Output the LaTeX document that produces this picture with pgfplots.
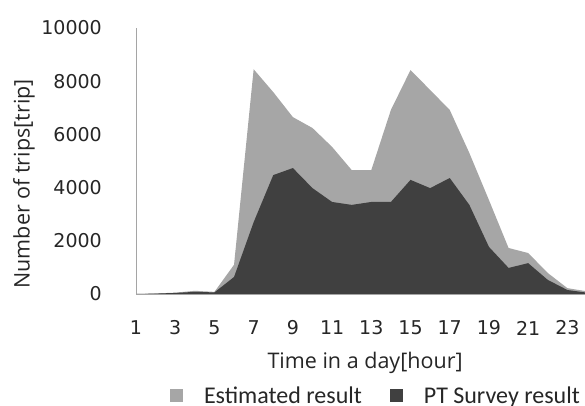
\documentclass[border=0pt]{standalone}
\usepackage{pgfplots}
\pgfplotsset{compat=1.18}
\usepackage{fontspec}
\setmainfont{Open Sans}
\newfontfamily\tickfont{DejaVu Sans}
\newfontfamily\legfont{Carlito}
\definecolor{estgray}{RGB}{166,166,166}
\definecolor{ptgray}{RGB}{64,64,64}
\definecolor{axgray}{RGB}{165,165,165}

% trips per hour: estimated vs PT survey
\pgfplotstableread{
hour est pt
1 0 0
2 20 15
3 50 40
4 120 80
5 80 60
6 1100 640
7 8450 2700
8 7590 4470
9 6650 4735
10 6240 3980
11 5530 3460
12 4660 3350
13 4660 3460
14 6920 3460
15 8420 4290
16 7670 3980
17 6920 4360
18 5300 3350
19 3530 1770
20 1730 980
21 1540 1160
22 790 530
23 220 150
24 100 50
}\tripdata

\begin{document}
\begin{tikzpicture}
\useasboundingbox (0,0) rectangle (585pt,406pt);
\begin{axis}[
    at={(136pt,112pt)}, anchor=south west,
    scale only axis, width=451pt, height=266pt,
    xmin=1, xmax=24, ymin=0, ymax=10000,
    axis lines*=left,
    axis line style={axgray, line width=0.8pt},
    axis on top,
    xtick={1,3,...,23},
    ytick={0,2000,...,10000},
    major tick length=0pt,
    scaled y ticks=false,
    /pgf/number format/1000 sep={},
    /pgf/number format/assume math mode=true,
    tick label style={font=\tickfont\fontsize{19}{21}\selectfont, text=black!85},
    yticklabel style={anchor=east, inner sep=0pt, xshift=-34pt},
    xticklabel style={anchor=center, inner sep=0pt, yshift=-34pt},
    xlabel={Time in a day[hour]},
    ylabel={Number of trips[trip]},
    label style={font=\fontsize{21.5}{23}\selectfont, text=black!85},
    xlabel style={at={(axis description cs:0.508,-0.259)}, anchor=center},
    ylabel style={at={(axis description cs:-0.2485,0.414)}, anchor=center},
    legend style={at={(axis description cs:0.075,-0.382)}, anchor=west,
        draw=none, fill=none, inner sep=0pt,
        font=\legfont\fontsize{24}{26}\selectfont, text=black!85,
        /tikz/every odd column/.append style={column sep=19pt},
        /tikz/every even column/.append style={column sep=26pt}},
    legend columns=2,
    legend cell align=left,
    legend image code/.code={\fill[#1] (0pt,-6.5pt) rectangle (13pt,6.5pt);},
]
\addplot[fill=estgray, draw=none] table[x=hour, y=est]{\tripdata} \closedcycle;
\addlegendentry{Estimated result}
\addplot[fill=ptgray, draw=none] table[x=hour, y=pt]{\tripdata} \closedcycle;
\addlegendentry{PT Survey result}
\end{axis}
\end{tikzpicture}
\end{document}
